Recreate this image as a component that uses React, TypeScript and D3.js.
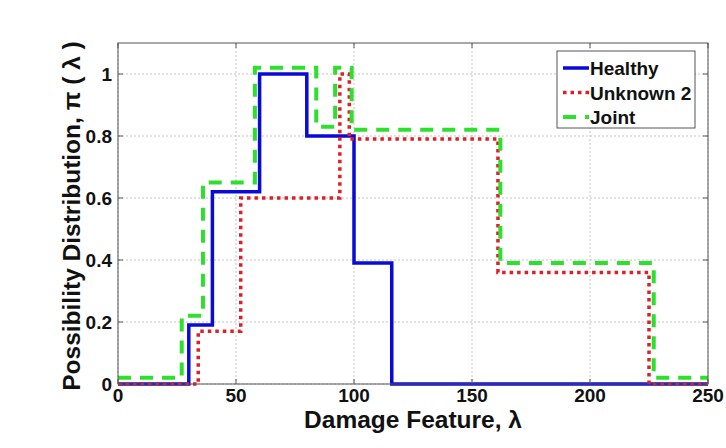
import React from "react";
import * as d3 from "d3";

const healthyX = [0, 30, 40, 60, 80, 100, 116, 250];
const healthyY = [0, 0.19, 0.62, 1.0, 0.8, 0.39, 0, 0];

const unknownX = [0, 34, 52, 94, 98, 161, 225, 250];
const unknownY = [0, 0.17, 0.6, 1.0, 0.79, 0.36, 0, 0];

const jointX = [0, 27, 36, 58, 84, 92, 99, 162, 227, 250];
const jointY = [0.02, 0.22, 0.65, 1.02, 0.83, 1.02, 0.82, 0.39, 0.02, 0.02];

const xTicks = [0, 50, 100, 150, 200, 250];
const yTicks = [0, 0.2, 0.4, 0.6, 0.8, 1];
const yTickLabels = ["0", "0.2", "0.4", "0.6", "0.8", "1"];

const seriesNames = ["Healthy", "Unknown 2", "Joint"];

const W = 726, H = 448;
const L = 118, R = 708, T = 43, B = 384;

export default function App() {
  const x = d3.scaleLinear().domain([0, 250]).range([L, R]);
  const y = d3.scaleLinear().domain([0, 1.1]).range([B, T]);
  const line = d3
    .line<[number, number]>()
    .x((d) => x(d[0]))
    .y((d) => y(d[1]))
    .curve(d3.curveStepAfter);

  const zip = (xs: number[], ys: number[]) =>
    xs.map((v, i) => [v, ys[i]] as [number, number]);

  const series = [
    { name: seriesNames[0], d: line(zip(healthyX, healthyY)), color: "#0a0ad8", w: 3.5, dash: undefined as string | undefined },
    { name: seriesNames[1], d: line(zip(unknownX, unknownY)), color: "#e01e28", w: 3.5, dash: "3.5,4" },
    { name: seriesNames[2], d: line(zip(jointX, jointY)), color: "#2ee02e", w: 4, dash: "13,9" },
  ];
  const font = "'Liberation Sans', Arial, sans-serif";

  return (
    <svg width={W} height={H} style={{ position: "absolute", left: 0, top: 0, background: "#ffffff" }}>
      <rect x={0} y={0} width={W} height={H} fill="#ffffff" />
      <rect x={L} y={T} width={R - L} height={B - T} fill="#ffffff" />
      {xTicks.map((t) => (
        <line key={"gx" + t} x1={x(t)} x2={x(t)} y1={T} y2={B} stroke="#c4c4c4" strokeWidth={1} strokeDasharray="2,2" />
      ))}
      {yTicks.map((t) => (
        <line key={"gy" + t} x1={L} x2={R} y1={y(t)} y2={y(t)} stroke="#c4c4c4" strokeWidth={1} strokeDasharray="2,2" />
      ))}
      <defs>
        <clipPath id="clip">
          <rect x={L - 2} y={T} width={R - L + 4} height={B - T + 2} />
        </clipPath>
      </defs>
      <g clipPath="url(#clip)">
        {series.map((s) => (
          <path key={s.name} d={s.d || ""} fill="none" stroke={s.color} strokeWidth={s.w} strokeDasharray={s.dash} />
        ))}
      </g>
      <rect x={L} y={T} width={R - L} height={B - T} fill="none" stroke="#555" strokeWidth={1} />
      {xTicks.map((t) => (
        <g key={"tx" + t}>
          <line x1={x(t)} x2={x(t)} y1={B} y2={B - 5} stroke="#555" />
          <line x1={x(t)} x2={x(t)} y1={T} y2={T + 5} stroke="#555" />
          <text x={x(t)} y={B + 18} textAnchor="middle" fontFamily={font} fontWeight="bold" fontSize={19} fill="#111">{t}</text>
        </g>
      ))}
      {yTicks.map((t, i) => (
        <g key={"ty" + t}>
          <line x1={L} x2={L + 5} y1={y(t)} y2={y(t)} stroke="#555" />
          <line x1={R} x2={R - 5} y1={y(t)} y2={y(t)} stroke="#555" />
          <text x={L - 6} y={y(t) + 7} textAnchor="end" fontFamily={font} fontWeight="bold" fontSize={19} fill="#111">{yTickLabels[i]}</text>
        </g>
      ))}
      <text x={413} y={428} textAnchor="middle" fontFamily={font} fontWeight="bold" fontSize={24.5} fill="#111">Damage Feature, λ</text>
      <text transform={`translate(80, 216) rotate(-90)`} textAnchor="middle" fontFamily={font} fontWeight="bold" fontSize={24.5} fill="#111">Possibility Distribution, π ( λ )</text>
      <g>
        <rect x={557} y={51} width={138} height={77} fill="#ffffff" stroke="#555" strokeWidth={1} />
        {series.map((s, i) => (
          <g key={"lg" + s.name}>
            <line x1={563} x2={589} y1={68 + i * 24.5} y2={68 + i * 24.5} stroke={s.color} strokeWidth={s.w} strokeDasharray={s.dash} />
            <text x={590} y={75 + i * 24.5} fontFamily={font} fontWeight="bold" fontSize={19} fill="#111">{s.name}</text>
          </g>
        ))}
      </g>
    </svg>
  );
}
